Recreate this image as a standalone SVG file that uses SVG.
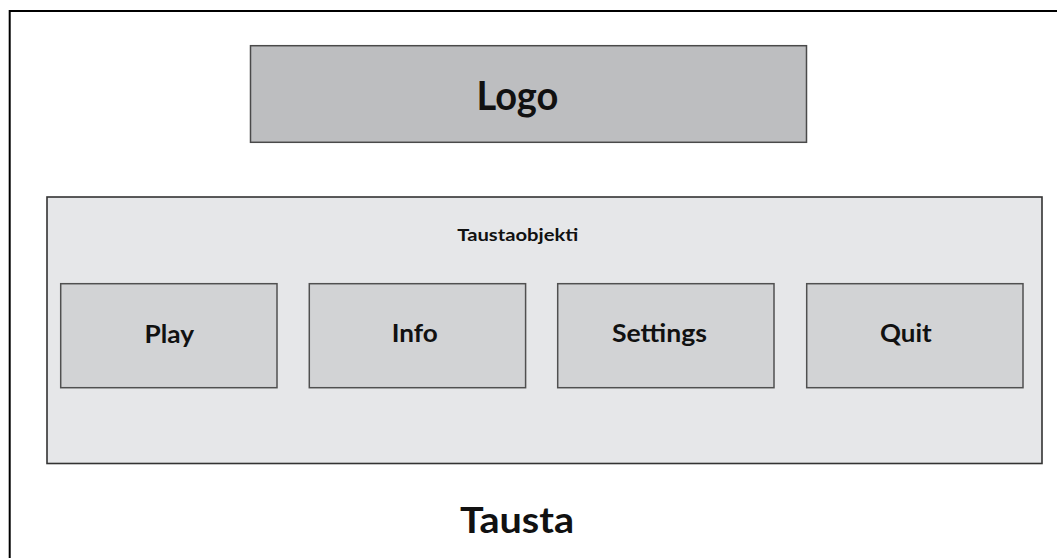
<svg xmlns="http://www.w3.org/2000/svg" width="1057" height="558" viewBox="0 0 1057 558">
  <style>
    .lbl { font-family: Lato, "Liberation Sans", sans-serif; font-weight: bold; fill: #111; }
    .btn { fill: #d2d3d5; stroke: #505050; stroke-width: 1.5; }
  </style>
  <rect x="0" y="0" width="1057" height="558" fill="#ffffff"/>

  <!-- background frame (continues past the right and bottom edges) -->
  <g id="tausta">
    <path d="M9.7,558 V11 H1057" fill="none" stroke="#000" stroke-width="2"/>
    <text class="lbl" x="460" y="533.3" font-size="37" textLength="114" lengthAdjust="spacingAndGlyphs">Tausta</text>
  </g>

  <g id="logo">
    <rect x="250.5" y="45.7" width="556" height="96.6" fill="#bdbec0" stroke="#4a4a4a" stroke-width="1.5"/>
    <text class="lbl" x="476.4" y="109.5" font-size="40" textLength="82" lengthAdjust="spacingAndGlyphs">Logo</text>
  </g>

  <g id="taustaobjekti">
    <rect x="47" y="197" width="995" height="266.5" fill="#e6e7e9" stroke="#333" stroke-width="1.6"/>
    <text class="lbl" x="457.3" y="241.3" font-size="17" textLength="121" lengthAdjust="spacingAndGlyphs">Taustaobjekti</text>
  </g>

  <g id="play">
    <rect class="btn" x="60.7" y="283.7" width="216.3" height="104"/>
    <text class="lbl" x="144.5" y="342.5" font-size="25.5" textLength="49.5" lengthAdjust="spacingAndGlyphs">Play</text>
  </g>

  <g id="info">
    <rect class="btn" x="309.3" y="283.7" width="216.3" height="104"/>
    <text class="lbl" x="391.7" y="342" font-size="25.5" textLength="46" lengthAdjust="spacingAndGlyphs">Info</text>
  </g>

  <g id="settings">
    <rect class="btn" x="557.7" y="283.7" width="216.3" height="104"/>
    <text class="lbl" x="612" y="342" font-size="25.5" textLength="95" lengthAdjust="spacingAndGlyphs">Settings</text>
  </g>

  <g id="quit">
    <rect class="btn" x="806.7" y="283.7" width="216.3" height="104"/>
    <text class="lbl" x="880" y="342" font-size="25.5" textLength="51.7" lengthAdjust="spacingAndGlyphs">Quit</text>
  </g>

  <!-- no connectors in this layout -->
  <g id="connectors"/>
</svg>
